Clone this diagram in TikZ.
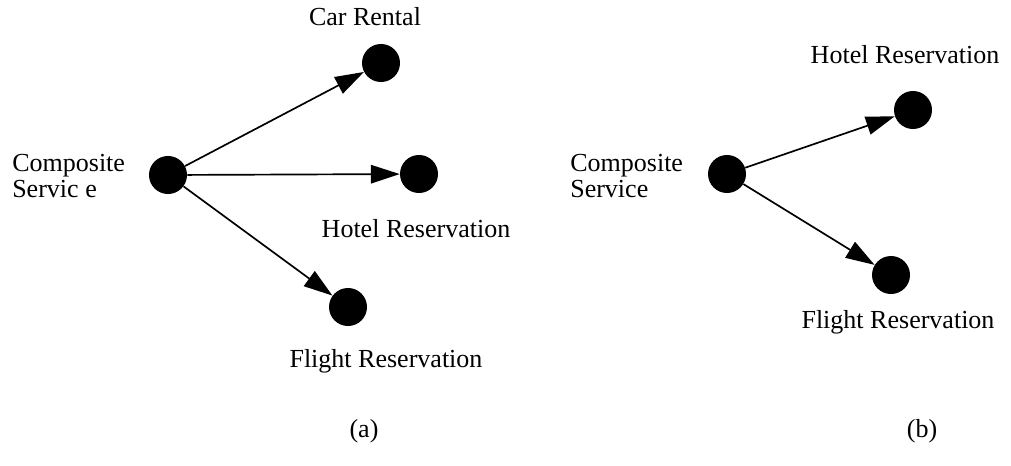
\documentclass[tikz,border=0pt]{standalone}
\usepackage{fontspec}
\setmainfont{Liberation Serif}
\usetikzlibrary{arrows.meta}
\tikzset{
    dot/.style={circle,fill=black,inner sep=0pt,minimum size=0.95cm},
    lbl/.style={font=\fontsize{18.5}{18}\selectfont,inner sep=0pt},
    arr/.style={-{Triangle[length=0.72cm,width=0.46cm]},line width=1.2pt},
}
\begin{document}
\begin{tikzpicture}[x=0.025cm,y=-0.025cm]
    \useasboundingbox (0,0) rectangle (1011,466);
    % (a)
    \node[dot] (srcA) at (168,175) {};
    \node[dot] (car) at (381,63) {};
    \node[dot] (hotelA) at (419,174) {};
    \node[dot] (flightA) at (348,307) {};
    \draw[arr] (srcA) -- (car);
    \draw[arr] (srcA) -- (hotelA);
    \draw[arr] (srcA) -- (flightA);
    \node[lbl] (carlbl) at (365,17) {Car Rental};
    \node[lbl] (hotelAlbl) at (416,229) {Hotel Reservation};
    \node[lbl] (flightAlbl) at (386,361) {Flight Reservation};
    \node[lbl,anchor=west,align=left] (srcAlbl) at (12,176) {Composite\\Servic e};
    \node[lbl] (capA) at (364,431) {(a)};
    % (b)
    \node[dot] (srcB) at (727,174) {};
    \node[dot] (hotelB) at (913,110) {};
    \node[dot] (flightB) at (891,275) {};
    \draw[arr] (srcB) -- (hotelB);
    \draw[arr] (srcB) -- (flightB);
    \node[lbl] (hotelBlbl) at (905,55) {Hotel Reservation};
    \node[lbl] (flightBlbl) at (898,322) {Flight Reservation};
    \node[lbl,anchor=west,align=left] (srcBlbl) at (570,176) {Composite\\Service};
    \node[lbl] (capB) at (922,431) {(b)};
\end{tikzpicture}
\end{document}
